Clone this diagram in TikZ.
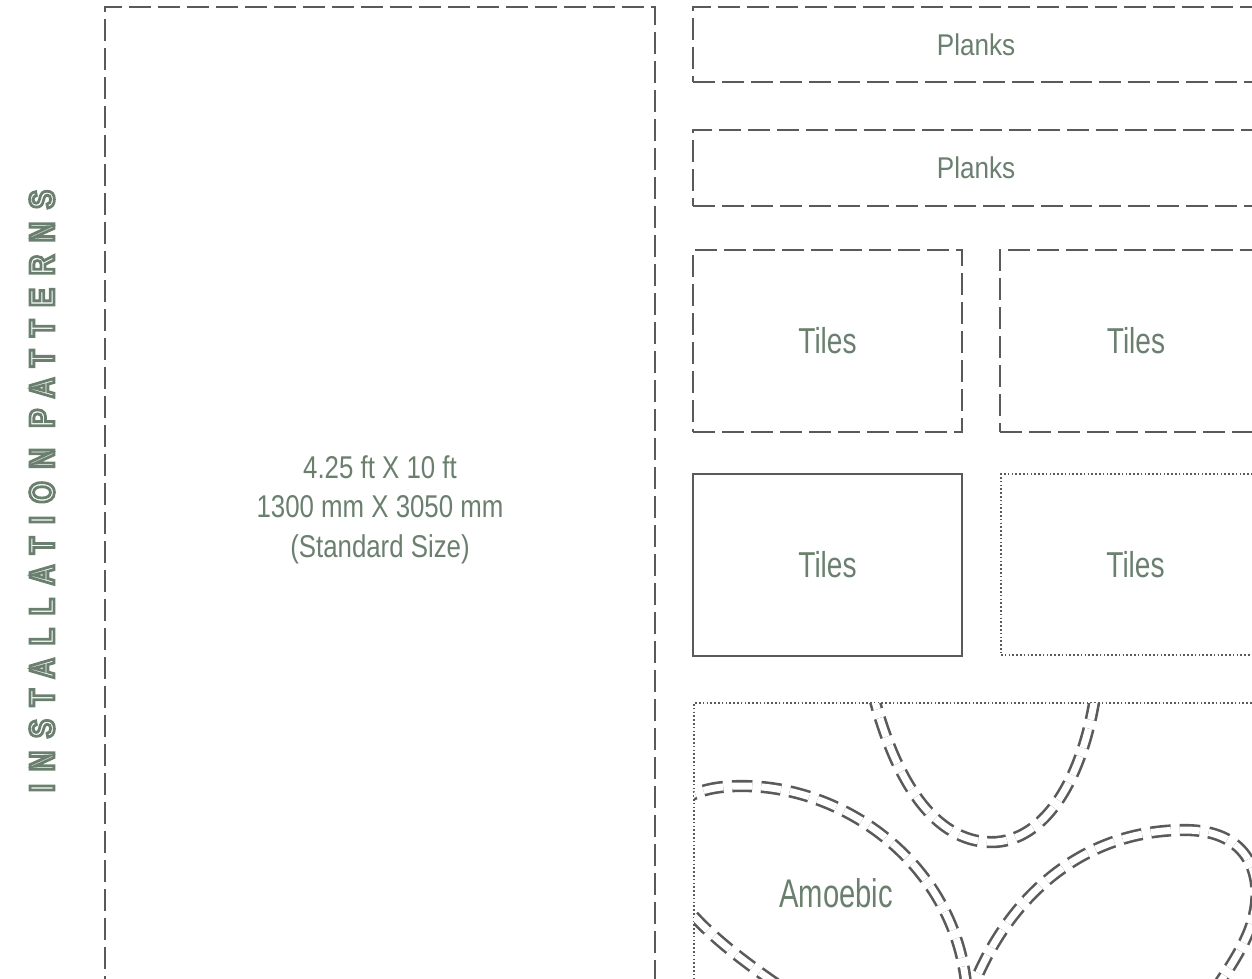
\documentclass[tikz,border=0pt]{standalone}
\usepackage{graphicx}
\usepackage{fontspec}
\setmainfont{Liberation Sans}
\newfontfamily\plankfont{Liberation Sans}[FakeStretch=0.87]
\newfontfamily\tilefont{Liberation Sans}[FakeStretch=0.78]
\newfontfamily\amoebafont{Liberation Sans}[FakeStretch=0.73]
\newfontfamily\sizefont{Liberation Sans}[FakeStretch=0.82]
\newfontfamily\titlefont{Liberation Sans}[FakeStretch=0.8,LetterSpace=37]
\newcommand\outlinedtext[1]{\special{pdf:literal direct 1 Tr 2.8 w}#1\special{pdf:literal direct 0 Tr}}
\definecolor{txt}{HTML}{6A7F6E}
\definecolor{ln}{HTML}{5A5A5A}
\tikzset{
  box/.style={draw=ln, anchor=north west, inner sep=0pt, outer sep=0pt, text=txt},
  dashbox/.style={box, line width=2.3pt, dash pattern=on 22pt off 7pt},
  solidbox/.style={box, line width=2pt},
  dotbox/.style={box, line width=1.8pt, dash pattern=on 1.6pt off 2.2pt},
  amoebacurve/.style={draw=ln, line width=2.6pt, double=white, double distance=7pt, dash pattern=on 20pt off 9pt},
}
\begin{document}
\begin{tikzpicture}[x=1pt,y=-1pt]
\useasboundingbox (0,0) rectangle (1252,978);
% title
\node[rotate=90, text=txt, inner sep=0pt] (title) at (42,491)
  {\fontsize{35}{35}\titlefont\bfseries\outlinedtext{INSTALLATION PATTERNS}};
% big panel
\node[dashbox, minimum width=550pt, minimum height=1005pt, align=center,
      font={\fontsize{31.5}{39.5}\sizefont}] (big) at (105,7)
  {4.25 ft X 10 ft\\1300 mm X 3050 mm\\(Standard Size)};
% planks
\node[dashbox, minimum width=566pt, minimum height=75pt] (planksA) at (693,7)
  {\fontsize{30}{30}\plankfont Planks};
\node[dashbox, minimum width=566pt, minimum height=76pt] (planksB) at (693,130)
  {\fontsize{30}{30}\plankfont Planks};
% tiles
\node[dashbox, minimum width=269pt, minimum height=182pt] (tilesA) at (693,250)
  {\fontsize{36}{36}\tilefont Tiles};
\node[dashbox, minimum width=272pt, minimum height=182pt] (tilesB) at (1000,250)
  {\fontsize{36}{36}\tilefont Tiles};
\node[solidbox, minimum width=269pt, minimum height=182pt] (tilesC) at (693,474)
  {\fontsize{36}{36}\tilefont Tiles};
\node[dotbox, minimum width=269pt, minimum height=181pt] (tilesD) at (1001,474)
  {\fontsize{36}{36}\tilefont Tiles};
% amoebic
\node[dotbox, minimum width=600pt, minimum height=300pt] (amoeba) at (694,703) {};
\begin{scope}
  \clip (amoeba.north west) rectangle (amoeba.south east);
  \draw[amoebacurve] (872,690) .. controls (897,790) and (940,845) .. (996,842)
        .. controls (1050,838) and (1085,770) .. (1096,690);
  \draw[amoebacurve] (800,1000) .. controls (740,960) and (670,910) .. (662,860)
        .. controls (658,800) and (695,786) .. (742,786)
        .. controls (850,786) and (960,870) .. (967,995);
  \draw[amoebacurve] (968,1000) .. controls (1003,900) and (1080,830) .. (1185,830)
        .. controls (1245,830) and (1262,870) .. (1255,910)
        .. controls (1250,940) and (1228,970) .. (1208,1000);
\end{scope}
\node[text=txt, inner sep=0pt] (amoebalbl) at (836,893) {\fontsize{40}{40}\amoebafont Amoebic};
\end{tikzpicture}
\end{document}
